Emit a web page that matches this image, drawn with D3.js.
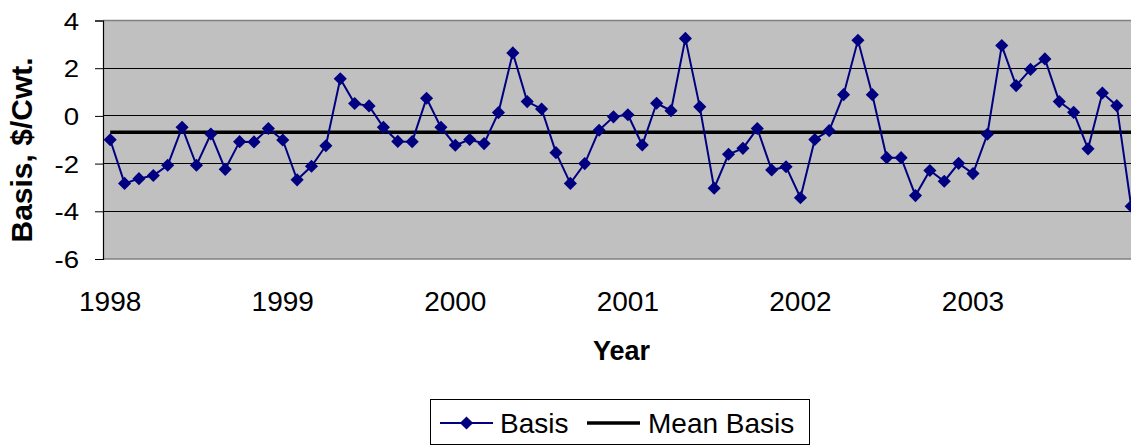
<!DOCTYPE html>
<html><head><meta charset="utf-8">
<script src="https://cdn.jsdelivr.net/npm/d3@7"></script>
<style>
html,body{margin:0;padding:0;background:#fff;}
svg{display:block;font-family:Arial,"Liberation Sans",sans-serif;}
</style></head>
<body>
<svg id="chart" width="1131" height="447"></svg>
<script>
// Monthly basis values, Jan 1998 .. Dec 2003
const basis = [
  -1.00,-2.83,-2.63,-2.50,-2.07,-0.48,-2.07,-0.76,-2.24,-1.08,-1.09,-0.53,
  -1.01,-2.68,-2.11,-1.25, 1.56, 0.52, 0.42,-0.48,-1.07,-1.08, 0.74,-0.48,
  -1.23,-0.99,-1.16, 0.14, 2.64, 0.60, 0.29,-1.54,-2.83,-2.00,-0.60,-0.04,
   0.05,-1.22, 0.53, 0.22, 3.25, 0.38,-3.03,-1.61,-1.36,-0.53,-2.27,-2.13,
  -3.43,-0.99,-0.62, 0.89, 3.17, 0.89,-1.75,-1.75,-3.34,-2.29,-2.74,-1.99,
  -2.42,-0.77, 2.95, 1.27, 1.95, 2.39, 0.60, 0.15,-1.38, 0.96, 0.43,-3.79
];
const meanBasis = -0.69;
const yearLabels = ["1998","1999","2000","2001","2002","2003"];
const yTicks = [4,2,0,-2,-4,-6];
const seriesNames = ["Basis","Mean Basis"];

const svg = d3.select("#chart");
const plotLeft = 103, plotTop = 20.5, plotBottom = 259, catW = 14.38;
const n = basis.length;
const x = d3.scaleLinear().domain([0, n]).range([plotLeft, plotLeft + n*catW]);
const y = d3.scaleLinear().domain([-6, 4]).range([plotBottom, plotTop]);
const W = 1131;

// plot background
svg.append("rect").attr("x", plotLeft).attr("y", y(4)).attr("width", x(n)-plotLeft).attr("height", y(-6)-y(4))
  .attr("fill", "#c0c0c0");

// gridlines
svg.append("g").selectAll("line").data(yTicks.filter(v => v!==4 && v!==-6)).join("line")
  .attr("x1", plotLeft).attr("x2", x(n)).attr("y1", d => y(d)).attr("y2", d => y(d))
  .attr("stroke", "#000").attr("stroke-width", 1).attr("shape-rendering","crispEdges");
// top & bottom border
svg.append("line").attr("x1", plotLeft).attr("x2", x(n)).attr("y1", y(4)).attr("y2", y(4))
  .attr("stroke", "#808080").attr("stroke-width", 1.5);
svg.append("line").attr("x1", plotLeft).attr("x2", x(n)).attr("y1", y(-6)).attr("y2", y(-6))
  .attr("stroke", "#808080").attr("stroke-width", 1.5);

// y axis
const yAxis = d3.axisLeft(y).tickValues(yTicks).tickSize(8).tickPadding(6).tickFormat(d => String(d));
const yg = svg.append("g").attr("transform", `translate(${plotLeft},0)`).call(yAxis);
yg.select(".domain").attr("stroke", "#000").attr("stroke-width", 1.2);
yg.selectAll(".tick line").attr("stroke", "#000");
yg.selectAll(".tick text").attr("font-size", 24).attr("fill", "#000")
  .attr("font-family", "Arial, 'Liberation Sans', sans-serif")
  .attr("x", 0).attr("dy", null).attr("y", 0)
  .attr("transform", "translate(-24,8.5) scale(1.15,1)")
  .attr("text-anchor", "end");

// x labels
const xLabelIdx = yearLabels.map((_, i) => i*12);
svg.append("g").selectAll("text").data(xLabelIdx).join("text")
  .attr("x", d => x(d + 0.5)).attr("y", 311)
  .attr("text-anchor", "middle").attr("font-size", 28).attr("fill", "#000")
  .text((d, i) => yearLabels[i]);

// mean line
svg.append("line").attr("x1", x(0.5)).attr("x2", W).attr("y1", y(meanBasis)).attr("y2", y(meanBasis))
  .attr("stroke", "#000").attr("stroke-width", 3.5);

// basis line
const line = d3.line().x((d, i) => x(i + 0.5)).y(d => y(d));
svg.append("path").datum(basis).attr("d", line).attr("fill", "none")
  .attr("stroke", "#000080").attr("stroke-width", 2);
const diamond = d3.symbol().type(d3.symbolDiamond2).size(110);
svg.append("g").selectAll("path").data(basis).join("path")
  .attr("transform", (d, i) => `translate(${x(i+0.5)},${y(d)})`)
  .attr("d", diamond).attr("fill", "#000080");

// axis titles
svg.append("text").attr("transform", "translate(32,150) rotate(-90)")
  .attr("text-anchor", "middle").attr("font-size", 30).attr("font-weight", "bold").attr("fill", "#000")
  .text("Basis, $/Cwt.");
svg.append("text").attr("x", 621.5).attr("y", 360)
  .attr("text-anchor", "middle").attr("font-size", 27).attr("font-weight", "bold").attr("fill", "#000")
  .text("Year");

// legend
const lg = svg.append("g");
lg.append("rect").attr("x", 430.5).attr("y", 399.5).attr("width", 379).attr("height", 45)
  .attr("fill", "#fff").attr("stroke", "#000").attr("stroke-width", 1);
lg.append("line").attr("x1", 440).attr("x2", 493).attr("y1", 423).attr("y2", 423)
  .attr("stroke", "#000080").attr("stroke-width", 2);
lg.append("path").attr("transform", "translate(466.5,423)").attr("d", diamond).attr("fill", "#000080");
lg.append("text").attr("x", 500).attr("y", 433).attr("font-size", 28).attr("fill", "#000").text(seriesNames[0]);
lg.append("line").attr("x1", 587).attr("x2", 640).attr("y1", 423).attr("y2", 423)
  .attr("stroke", "#000").attr("stroke-width", 3.5);
lg.append("text").attr("x", 648).attr("y", 433).attr("font-size", 28).attr("fill", "#000").text(seriesNames[1]);
</script>
</body></html>
